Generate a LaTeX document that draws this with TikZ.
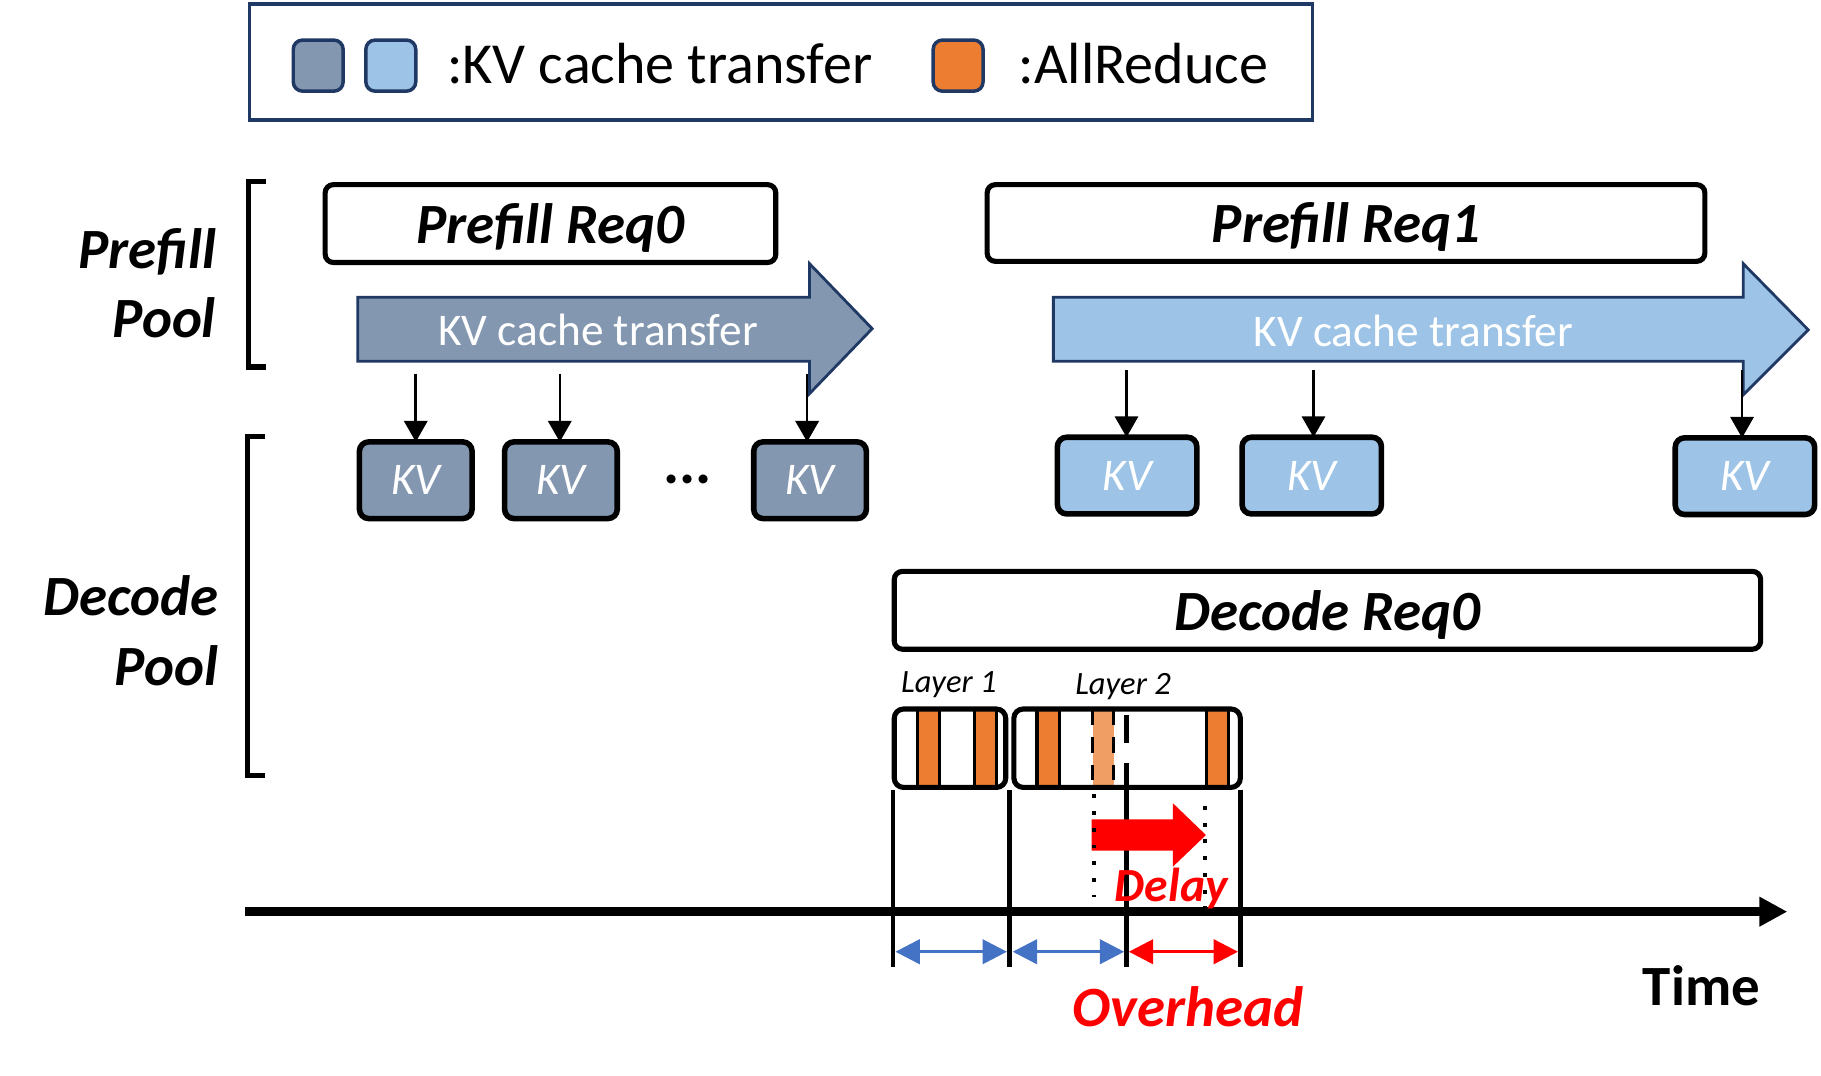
\documentclass[tikz,border=0pt]{standalone}
\usepackage{fontspec}
\setmainfont{Carlito}
\usetikzlibrary{arrows.meta}
\definecolor{kvdark}{HTML}{8497B0}
\definecolor{kvlight}{HTML}{9DC3E6}
\definecolor{arorange}{HTML}{ED7D31}
\definecolor{navy}{HTML}{1F3864}
\definecolor{dblue}{HTML}{4472C4}
\definecolor{pred}{HTML}{FF0000}
\newcommand{\fsz}[1]{\fontsize{#1pt}{#1pt}\selectfont}
\begin{document}
\begin{tikzpicture}[x=0.5pt,y=-0.5pt,
  every node/.style={inner sep=0pt, outer sep=0pt},
  reqbox/.style={draw, line width=2.2pt, rounded corners=3.5pt, fill=white, text depth=0pt, font=\fsz{24.5}\bfseries\itshape},
  kvbox/.style={draw, line width=2.4pt, rounded corners=4pt, minimum height=33pt, text=white, font=\fsz{19.5}\itshape},
  legsq/.style={draw=navy, line width=1.5pt, rounded corners=4pt, minimum width=21.5pt, minimum height=22pt},
  bigarrow/.style={draw=navy, line width=1.2pt},
  arrtext/.style={text=white, font=\fsz{19.5}},
  smallarr/.style={line width=1.1pt, -{Triangle[length=9pt,width=10pt]}},
  bracketline/.style={line width=2.2pt},
  poolname/.style={anchor=base east, font=\fsz{24.5}\bfseries\itshape},
  layerbox/.style={draw, line width=2.2pt, rounded corners=4pt, minimum height=33.75pt},
  layertext/.style={anchor=base, font=\fsz{14}\itshape},
  orbar/.style={draw, line width=1.4pt, fill=arorange},
  vline/.style={line width=2pt},
  dotline/.style={line width=1.7pt, dash pattern=on 1.7pt off 5.5pt},
  spanarr/.style={line width=1.4pt, {Triangle[length=10.5pt,width=10.5pt]}-{Triangle[length=10.5pt,width=10.5pt]}},
]
\useasboundingbox (0,0) rectangle (1568,926);

% legend
\draw[navy, line width=1.5pt] (215,3.5) rectangle (1130,103.5);
\node[legsq, fill=kvdark] (lgdark) at (274,56.5) {};
\node[legsq, fill=kvlight] (lglight) at (336.5,56.5) {};
\node[anchor=base west, font=\fsz{25}] (lgkvtext) at (385,72) {:KV cache transfer};
\node[legsq, fill=arorange] (lgor) at (825,56.5) {};
\node[anchor=base west, font=\fsz{25}] (lgartext) at (877,72) {:AllReduce};

% pool labels and brackets
\draw[bracketline] (229,156) -- (214,156) -- (214,316) -- (229,316);
\draw[bracketline] (228,376) -- (213,376) -- (213,668) -- (228,668);
\node[poolname] (pp1) at (186,231) {Prefill};
\node[poolname] (pp2) at (186,291) {Pool};
\node[poolname] (dp1) at (188,530) {Decode};
\node[poolname] (dp2) at (188,590) {Pool};

% request boxes
\node[reqbox, minimum width=194pt, minimum height=33.5pt] (pr0) at (474,192.5) {Prefill Req0};
\node[reqbox, minimum width=309pt, minimum height=33pt] (pr1) at (1159,192) {Prefill Req1};
\node[reqbox, minimum width=373pt, minimum height=33.5pt] (dr0) at (1143,525.5) {Decode Req0};

% big arrows
\draw[bigarrow, fill=kvdark] (308,256) -- (697,256) -- (697,227) -- (751,283) -- (697,339) -- (697,311) -- (308,311) -- cycle;
\node[arrtext] (kvt0) at (515,284) {KV cache transfer};
\draw[bigarrow, fill=kvlight] (907,256) -- (1501,256) -- (1501,227) -- (1557,284) -- (1501,340) -- (1501,311) -- (907,311) -- cycle;
\node[arrtext] (kvt1) at (1217,285) {KV cache transfer};

% KV boxes
\node[kvbox, fill=kvdark, minimum width=48.5pt] (kv1) at (358,413.5) {KV};
\node[kvbox, fill=kvdark, minimum width=48.5pt] (kv2) at (483,413.5) {KV};
\node[kvbox, fill=kvdark, minimum width=48.5pt] (kv3) at (697.5,413.5) {KV};
\node[font=\fsz{26}\bfseries, anchor=base] (dots) at (592,416) {...};
\node[kvbox, fill=kvlight, minimum width=60pt] (kv4) at (970.5,409.5) {KV};
\node[kvbox, fill=kvlight, minimum width=60pt] (kv5) at (1129.5,409.5) {KV};
\node[kvbox, fill=kvlight, minimum width=60pt] (kv6) at (1502.5,410) {KV};

% small arrows
\coordinate (a1) at (358,322);
\coordinate (a2) at (482,322);
\coordinate (a3) at (695,322);
\coordinate (b1) at (970,319);
\coordinate (b2) at (1131,319);
\coordinate (b3) at (1500,319);
\draw[smallarr] (a1) -- (a1 |- kv1.north);
\draw[smallarr] (a2) -- (a2 |- kv2.north);
\draw[smallarr] (a3) -- (a3 |- kv3.north);
\draw[smallarr] (b1) -- (b1 |- kv4.north);
\draw[smallarr] (b2) -- (b2 |- kv5.north);
\draw[smallarr] (b3) -- (b3 |- kv6.north);

% layer blocks
\draw[orbar] (790,611) rectangle (809,678);
\draw[orbar] (839,611) rectangle (858,678);
\draw[orbar] (893,611) rectangle (912,678);
\draw[orbar] (1039,611) rectangle (1058,678);
\fill[arorange!75] (941,611) rectangle (959,678);
\draw[line width=1.4pt, dash pattern=on 6.5pt off 5.5pt] (941,611) -- (941,680) (959,611) -- (959,680);
\draw[vline, dash pattern=on 12pt off 8.5pt] (970,616) -- (970,680);
\node[layerbox, minimum width=48pt] (L1) at (818,644.25) {};
\node[layerbox, minimum width=97.5pt] (L2) at (970.5,644.25) {};
\node[layertext] (l1t) at (817,596) {Layer 1};
\node[layertext] (l2t) at (967,598) {Layer 2};

% time axis
\coordinate (tstart) at (211,785);
\coordinate (tend) at (1539,785);
\draw[line width=4pt, -{Triangle[length=12pt,width=12pt]}] (tstart) -- (tend);

% dividers
\coordinate (d0) at (769,680);
\coordinate (d1) at (869.5,680);
\coordinate (d2) at (970,680);
\coordinate (d3) at (1068,680);
\coordinate (dbot) at (0,833);
\draw[vline] (d0) -- (d0 |- dbot);
\draw[vline] (d1) -- (d1 |- dbot);
\draw[vline] (d2) -- (d2 |- dbot);
\draw[vline] (d3) -- (d3 |- dbot);

% span arrows
\draw[spanarr, color=dblue] (771,819.5) -- (867,819.5);
\draw[spanarr, color=dblue] (872,819.5) -- (968,819.5);
\draw[spanarr, color=pred] (972,819.5) -- (1066,819.5);

% delay arrow
\fill[pred] (940,705.5) -- (1010,705.5) -- (1010,691.7) -- (1038.4,719) -- (1010,746.2) -- (1010,732.5) -- (940,732.5) -- cycle;
\node[anchor=base, text=pred, font=\fsz{20.5}\bfseries\itshape] (delay) at (1008.5,776) {Delay};
\draw[dotline] (942,684) -- (942,772);
\draw[dotline] (1037.5,694) -- (1037.5,782);

% labels
\node[anchor=base, text=pred, font=\fsz{24.5}\bfseries\itshape] (overhead) at (1023,884) {Overhead};
\node[anchor=base, font=\fsz{24.5}\bfseries] (time) at (1465,866) {Time};
\end{tikzpicture}
\end{document}
